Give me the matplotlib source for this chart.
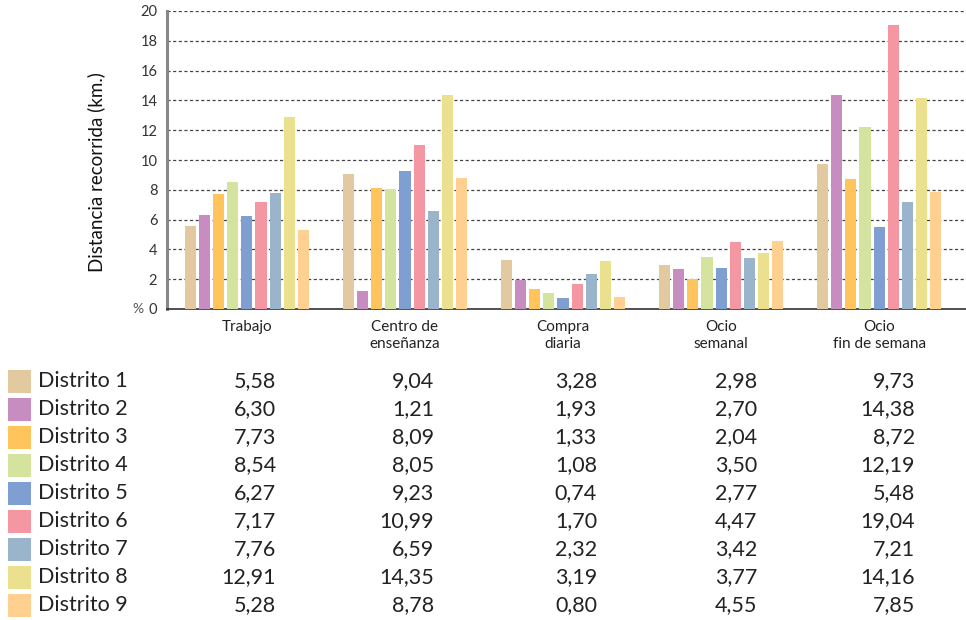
import numpy as np
import matplotlib
matplotlib.use('Agg')
import matplotlib.pyplot as plt
from matplotlib.patches import Rectangle

categories = ['Trabajo', 'Centro de\nenseñanza', 'Compra\ndiaria', 'Ocio\nsemanal', 'Ocio\nfin de semana']
districts = ['Distrito 1', 'Distrito 2', 'Distrito 3', 'Distrito 4', 'Distrito 5',
             'Distrito 6', 'Distrito 7', 'Distrito 8', 'Distrito 9']

trabajo = [5.58, 6.30, 7.73, 8.54, 6.27, 7.17, 7.76, 12.91, 5.28]
centro = [9.04, 1.21, 8.09, 8.05, 9.23, 10.99, 6.59, 14.35, 8.78]
compra = [3.28, 1.93, 1.33, 1.08, 0.74, 1.70, 2.32, 3.19, 0.80]
ocio_semanal = [2.98, 2.70, 2.04, 3.50, 2.77, 4.47, 3.42, 3.77, 4.55]
ocio_finde = [9.73, 14.38, 8.72, 12.19, 5.48, 19.04, 7.21, 14.16, 7.85]

colors = ['#E3C9A0', '#C78DC0', '#FFC45C', '#D4E39E', '#7F9FD3',
          '#F497A2', '#99B4CB', '#EBE08D', '#FFD08F']

values = np.array([trabajo, centro, compra, ocio_semanal, ocio_finde])  # cat x district

plt.rcParams['font.family'] = ['Lato', 'DejaVu Sans']

W, H = 966, 620
fig = plt.figure(figsize=(W / 100, H / 100), dpi=100)

# chart area
ax = fig.add_axes([167 / W, 1 - 309 / H, (W - 167) / W, (309 - 11) / H])
x = np.arange(len(categories))
step = 0.089
width = 0.07
for i, (name, col) in enumerate(zip(districts, colors)):
    ax.bar(x + (i - 4) * step, values[:, i], width=width, color=col, zorder=3)

ax.set_xlim(-0.506, 4.55)
ax.set_ylim(0, 20)
ax.set_yticks(range(0, 21, 2))
ax.yaxis.grid(True, linestyle=(0, (2.5, 2)), color='#444444', linewidth=0.9, zorder=0)
ax.tick_params(axis='y', length=0, labelsize=10.5, labelcolor='#333333', pad=7)
ax.tick_params(axis='x', length=0, labelsize=11, labelcolor='#222222', pad=8)
ax.set_xticks(x)
ax.set_xticklabels(categories, linespacing=1.3)
for s in ['top', 'right']:
    ax.spines[s].set_visible(False)
ax.spines['left'].set_color('#888888')
ax.spines['left'].set_linewidth(2.2)
ax.spines['bottom'].set_color('#333333')
ax.spines['bottom'].set_linewidth(1.2)
ax.set_ylabel('Distancia recorrida (km.)', fontsize=13.5, color='#111111')
ax.yaxis.set_label_coords(-0.077, 0.46)
ax.text(-0.029, 0, '%', transform=ax.get_yaxis_transform(), ha='right', va='center',
        fontsize=10, color='#555555')

# table below
tab = fig.add_axes([0, 0, 1, (H - 360) / H])
tab.set_xlim(0, W)
tab.set_ylim(620, 360)
tab.axis('off')
row0, row_step = 381, 28
col_right = [276, 434, 597, 757, 915]
for i, (name, col) in enumerate(zip(districts, colors)):
    y = row0 + i * row_step
    tab.add_patch(Rectangle((8, y - 11.5), 23, 23, color=col, lw=0))
    tab.text(38, y, name, ha='left', va='center', fontsize=15.5, color='#222222')
    for j, xr in enumerate(col_right):
        txt = f'{values[j, i]:.2f}'.replace('.', ',')
        tab.text(xr, y, txt, ha='right', va='center', fontsize=15.5, color='#222222')

fig.savefig('out.png', dpi=100)
